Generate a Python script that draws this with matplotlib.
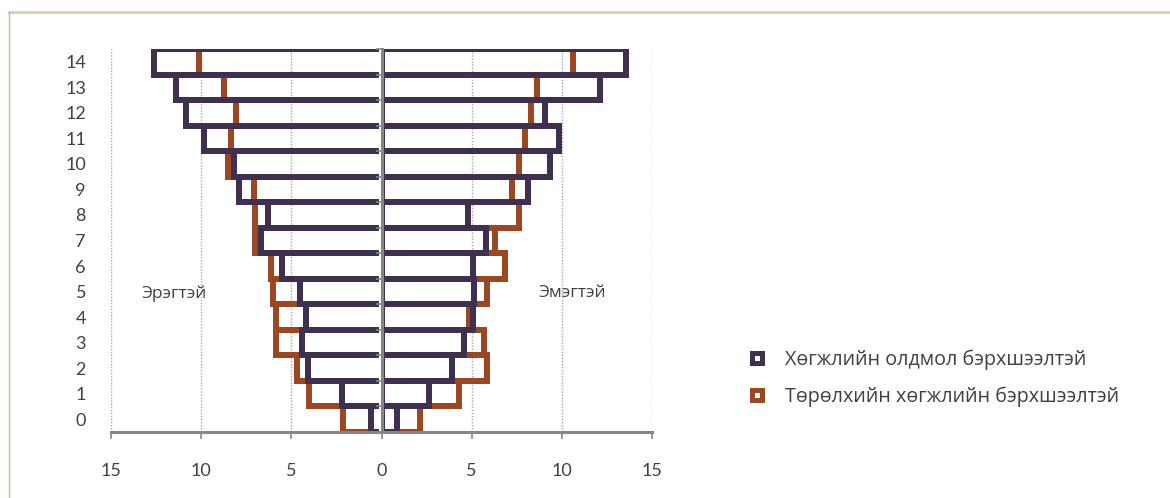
import matplotlib
matplotlib.use("Agg")
import matplotlib.pyplot as plt
from matplotlib.patches import Rectangle
from matplotlib.lines import Line2D
import numpy as np

# ---- data ----
ages = list(range(15))
male_acquired = [0.6, 2.2, 4.1, 4.4, 4.2, 4.5, 5.5, 6.7, 6.3, 7.9, 8.2, 9.85, 10.85, 11.4, 12.6]
male_congenital = [2.15, 4.0, 4.7, 5.85, 5.85, 6.0, 6.1, 7.0, 7.0, 7.05, 8.5, 8.35, 8.05, 8.75, 10.1]
female_acquired = [0.85, 2.65, 3.9, 4.55, 5.05, 5.15, 5.05, 5.8, 4.8, 8.15, 9.35, 9.85, 9.05, 12.1, 13.55]
female_congenital = [2.15, 4.3, 5.85, 5.7, 4.85, 5.85, 6.85, 6.3, 7.6, 7.25, 7.6, 7.95, 8.3, 8.65, 10.6]
x_ticks = [-15, -10, -5, 0, 5, 10, 15]
x_ticklabels = ["15", "10", "5", "0", "5", "10", "15"]
series_names = ["Хөгжлийн олдмол бэрхшээлтэй", "Төрөлхийн хөгжлийн бэрхшээлтэй"]
side_labels = ["Эрэгтэй", "Эмэгтэй"]

PURPLE = "#40304f"
ORANGE = "#9b4722"
AXIS = "#868686"
GRID = "#a6a6a6"
TXT = "#404040"

W, H = 1170, 498
fig = plt.figure(figsize=(W / 100, H / 100), dpi=100)
ax = fig.add_axes([111 / W, (H - 432) / H, (652 - 111) / W, (432 - 49) / H])
ax.set_xlim(-15, 15)
ax.set_ylim(-0.5, 14.5)

px = 30 / (652 - 111)  # data units per pixel in x
lw = 6 * 72 / 100
d = 2.6 * px

clip_left = Rectangle((-20, -0.5), 20 - d, 15, transform=ax.transData)
clip_right = Rectangle((d, -0.5), 20, 15, transform=ax.transData)

y = np.array(ages)
for vals, col, z in [(male_congenital, ORANGE, 2), (male_acquired, PURPLE, 3)]:
    bars = ax.barh(y, -np.array(vals), height=1.0, left=0, facecolor="none",
                   edgecolor=col, linewidth=lw, zorder=z)
    for b in bars:
        b.set_clip_path(clip_left)
for vals, col, z in [(female_congenital, ORANGE, 2), (female_acquired, PURPLE, 3)]:
    bars = ax.barh(y, np.array(vals), height=1.0, left=0, facecolor="none",
                   edgecolor=col, linewidth=lw, zorder=z)
    for b in bars:
        b.set_clip_path(clip_right)

# gridlines
for xv in x_ticks:
    if xv != 0:
        ax.axvline(xv, color=GRID, linestyle=(0, (1, 1.2)), linewidth=1.0, zorder=1)

# center axis (value 0)
sec = ax.secondary_yaxis(0.5)
for sp in sec.spines.values():
    sp.set_color(AXIS)
    sp.set_linewidth(2.2)
sec.set_yticks(np.arange(-0.5, 15, 1.0))
sec.set_yticklabels([])
sec.tick_params(axis="y", which="both", length=4, width=1.2, color=AXIS,
                labelleft=False, labelright=False, left=True, right=False, direction="out")
sec.set_zorder(5)

# axes styling
for s in ["top", "right", "left"]:
    ax.spines[s].set_visible(False)
ax.spines["bottom"].set_color(AXIS)
ax.spines["bottom"].set_linewidth(2.2)
ax.spines["bottom"].set_zorder(6)
ax.set_xticks(x_ticks)
ax.set_xticklabels(x_ticklabels, fontfamily="Lato", fontsize=13, color=TXT)
ax.tick_params(axis="x", length=5, width=1.2, color=AXIS, pad=17)
ax.set_yticks(y)
ax.set_yticklabels([str(a) for a in ages], fontfamily="Lato", fontsize=13, color=TXT)
ax.tick_params(axis="y", length=0, pad=18)

ax.text(-11.5, 4.93, side_labels[0], ha="center", va="center", fontsize=12.5,
        fontfamily="Open Sans", color=TXT, zorder=6)
ax.text(10.6, 4.93, side_labels[1], ha="center", va="center", fontsize=12.5,
        fontfamily="Open Sans", color=TXT, zorder=6)

handles = [Line2D([], [], marker="s", linestyle="none", markersize=7.2, markeredgewidth=3.6,
                  markerfacecolor="white", markeredgecolor=PURPLE),
           Line2D([], [], marker="s", linestyle="none", markersize=7.2, markeredgewidth=3.6,
                  markerfacecolor="white", markeredgecolor=ORANGE)]
leg = fig.legend(handles, series_names, loc="center left",
                 bbox_to_anchor=(747.1 / W, (H - 378.5) / H), frameon=False,
                 prop={"family": "Open Sans", "size": 14.2}, handlelength=1.0,
                 handletextpad=0.92, labelspacing=0.85, borderpad=0, borderaxespad=0)
for t in leg.get_texts():
    t.set_color(TXT)

# frame lines
fig.add_artist(Line2D([9 / W, 1.0], [(H - 12) / H, (H - 12) / H], transform=fig.transFigure,
                      color="#dacfae", linewidth=2.0))
fig.add_artist(Line2D([9 / W, 9 / W], [0, (H - 12) / H], transform=fig.transFigure,
                      color="#cbbd8e", linewidth=1.0))

fig.savefig("out.png", dpi=100)
